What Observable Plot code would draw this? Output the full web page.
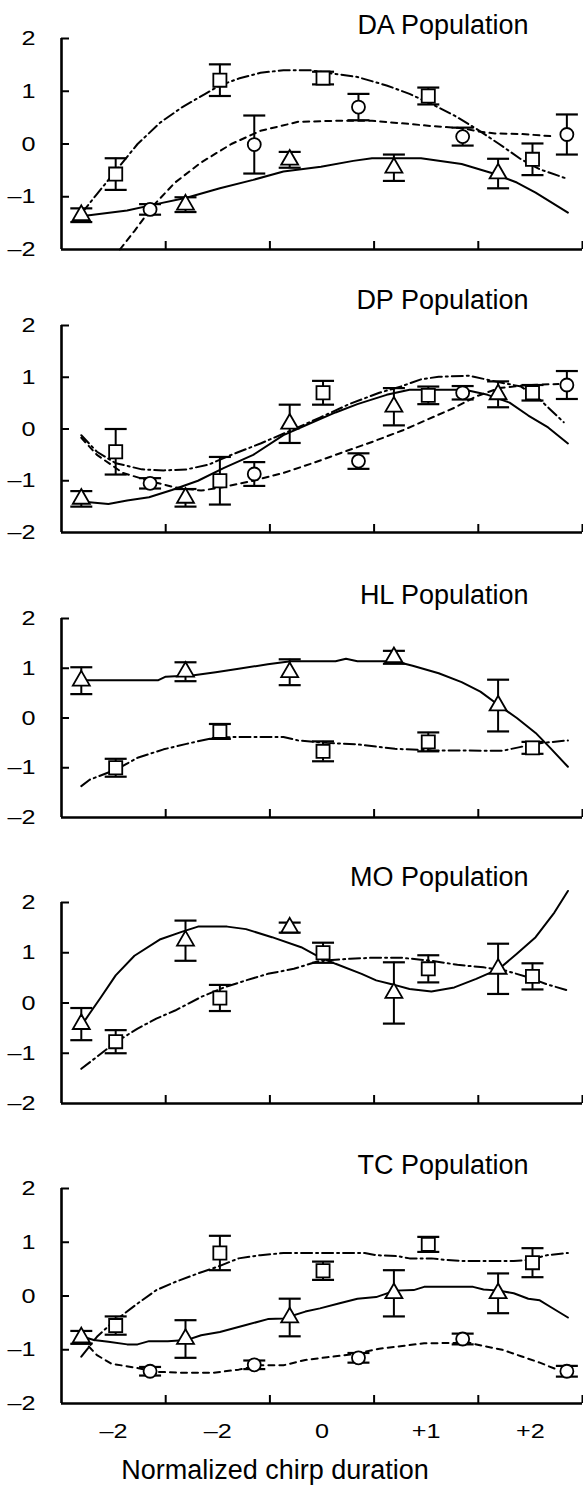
<!DOCTYPE html>
<html>
<head>
<meta charset="utf-8">
<script src="https://cdn.jsdelivr.net/npm/d3@7"></script>
<script src="https://cdn.jsdelivr.net/npm/@observablehq/plot@0.6"></script>
<style>
  html, body { margin: 0; padding: 0; background: white; }
  #chart { width: 583px; height: 1491px; overflow: hidden; }
  #chart svg { display: block; }
</style>
</head>
<body>
<div id="chart"></div>
<script>
// ---------- shared categories / tick labels ----------
const titles = ["DA Population", "DP Population", "HL Population", "MO Population", "TC Population"];
const triX = [-2.31, -1.31, -0.31, 0.69, 1.69];
const sqX  = [-1.98, -0.98, 0.01, 1.02, 2.02];
const ciX  = [-1.65, -0.65, 0.35, 1.35, 2.35];
const yTickValues = [2, 1, 0, -1, -2];
const yTickLabels = ["2", "1", "0", "–1", "–2"];
const xTickMarks = [-1.5, -0.5, 0.5, 1.5, 2.5];
const xLabelValues = [-2, -1, 0, 1, 2];
const xLabelTexts = ["–2", "–2", "0", "+1", "+2"];
const xAxisLabel = "Normalized chirp duration";

// ---------- DA ----------
const daTri = [-1.35, -1.15, -0.30, -0.45, -0.56];
const daTriErr = [0.13, 0.14, 0.15, 0.25, 0.28];
const daSq = [-0.57, 1.21, 1.25, 0.91, -0.29];
const daSqErr = [0.30, 0.30, 0.12, 0.16, 0.30];
const daCi = [-1.24, -0.01, 0.70, 0.14, 0.18];
const daCiErr = [0.10, 0.55, 0.25, 0.17, 0.38];
const daTriFitX = [-2.31, -1.87, -1.59, -1.30, -0.98, -0.66, -0.37, -0.01, 0.30, 0.48, 0.95, 1.34, 1.66, 1.87, 2.05, 2.36];
const daTriFitY = [-1.37, -1.26, -1.14, -1.02, -0.84, -0.68, -0.52, -0.43, -0.32, -0.27, -0.27, -0.38, -0.57, -0.73, -0.92, -1.30];
const daSqFitX = [-2.31, -2.16, -1.98, -1.77, -1.55, -1.34, -1.12, -0.98, -0.80, -0.59, -0.37, -0.12, 0.05, 0.34, 0.62, 0.84, 1.05, 1.27, 1.48, 1.70, 1.91, 2.09, 2.34];
const daSqFitY = [-1.32, -0.95, -0.51, 0.00, 0.41, 0.70, 0.95, 1.11, 1.24, 1.35, 1.40, 1.40, 1.35, 1.27, 1.11, 0.95, 0.76, 0.54, 0.29, 0.00, -0.29, -0.48, -0.65];
const daCiFitX = [-1.94, -1.80, -1.62, -1.41, -1.16, -0.87, -0.59, -0.23, 0.13, 0.48, 0.84, 1.05, 1.34, 1.52, 1.66, 1.91, 2.19];
const daCiFitY = [-2.00, -1.65, -1.17, -0.73, -0.35, 0.00, 0.25, 0.42, 0.44, 0.44, 0.38, 0.34, 0.30, 0.23, 0.20, 0.19, 0.15];

// ---------- DP ----------
const dpTri = [-1.35, -1.33, 0.10, 0.43, 0.67];
const dpTriErr = [0.15, 0.17, 0.37, 0.36, 0.25];
const dpSq = [-0.44, -1.00, 0.70, 0.65, 0.70];
const dpSqErr = [0.44, 0.46, 0.23, 0.17, 0.15];
const dpCi = [-1.05, -0.87, -0.62, 0.70, 0.85];
const dpCiErr = [0.10, 0.23, 0.15, 0.13, 0.27];
const dpTriFitX = [-2.31, -2.05, -1.87, -1.66, -1.44, -1.19, -0.94, -0.66, -0.37, -0.09, 0.13, 0.34, 0.62, 0.84, 1.05, 1.37, 1.59, 1.80, 1.98, 2.17, 2.36];
const dpTriFitY = [-1.40, -1.45, -1.38, -1.32, -1.18, -1.00, -0.75, -0.50, -0.12, 0.13, 0.32, 0.48, 0.66, 0.76, 0.76, 0.76, 0.66, 0.51, 0.26, 0.03, -0.28];
const dpSqFitX = [-2.31, -2.16, -1.98, -1.73, -1.52, -1.30, -1.09, -0.87, -0.59, -0.30, -0.02, 0.26, 0.55, 0.77, 0.95, 1.12, 1.41, 1.66, 1.91, 2.09, 2.32];
const dpSqFitY = [-0.12, -0.44, -0.66, -0.78, -0.80, -0.78, -0.69, -0.50, -0.28, -0.03, 0.22, 0.48, 0.70, 0.83, 0.96, 1.01, 1.03, 0.92, 0.82, 0.57, 0.13];
const dpCiFitX = [-2.31, -2.16, -1.91, -1.66, -1.41, -1.16, -0.94, -0.66, -0.37, -0.09, 0.20, 0.48, 0.77, 1.02, 1.27, 1.48, 1.70, 1.98, 2.27];
const dpCiFitY = [-0.17, -0.50, -0.85, -1.00, -1.13, -1.19, -1.12, -1.00, -0.85, -0.66, -0.45, -0.25, -0.03, 0.19, 0.41, 0.63, 0.79, 0.85, 0.87];

// ---------- HL ----------
const hlTri = [0.75, 0.93, 0.92, 1.22, 0.25];
const hlTriErr = [0.27, 0.19, 0.26, 0.13, 0.52];
const hlSq = [-1.00, -0.27, -0.67, -0.48, -0.60];
const hlSqErr = [0.18, 0.15, 0.20, 0.19, 0.12];
const hlTriFitX = [-2.31, -2.02, -1.57, -1.50, -1.23, -1.02, -0.80, -0.52, -0.30, 0.13, 0.23, 0.34, 0.70, 0.87, 1.12, 1.34, 1.52, 1.70, 1.87, 2.05, 2.19, 2.36];
const hlTriFitY = [0.76, 0.76, 0.76, 0.83, 0.86, 0.92, 0.99, 1.08, 1.14, 1.14, 1.19, 1.14, 1.14, 1.05, 0.90, 0.72, 0.53, 0.25, 0.00, -0.30, -0.60, -0.98];
const hlSqFitX = [-2.31, -2.23, -1.98, -1.77, -1.52, -1.30, -1.02, -0.77, -0.37, -0.23, 0.05, 0.34, 0.70, 1.05, 1.73, 1.91, 2.12, 2.36];
const hlSqFitY = [-1.37, -1.24, -1.04, -0.80, -0.63, -0.52, -0.39, -0.38, -0.38, -0.45, -0.50, -0.53, -0.62, -0.65, -0.66, -0.58, -0.50, -0.45];

// ---------- MO ----------
const moTri = [-0.42, 1.24, 1.50, 0.20, 0.68];
const moTriErr = [0.32, 0.40, 0.10, 0.61, 0.50];
const moSq = [-0.77, 0.10, 1.00, 0.68, 0.53];
const moSqErr = [0.23, 0.26, 0.20, 0.27, 0.26];
const moTriFitX = [-2.31, -2.23, -2.12, -1.98, -1.80, -1.55, -1.34, -1.19, -0.91, -0.73, -0.48, -0.20, -0.02, 0.13, 0.38, 0.52, 0.66, 0.84, 1.05, 1.27, 1.48, 1.70, 1.87, 2.05, 2.23, 2.36];
const moTriFitY = [-0.45, -0.21, 0.12, 0.55, 0.94, 1.27, 1.42, 1.52, 1.52, 1.47, 1.31, 1.11, 0.91, 0.78, 0.58, 0.45, 0.38, 0.28, 0.23, 0.31, 0.48, 0.68, 0.98, 1.31, 1.80, 2.23];
const moSqFitX = [-2.31, -2.16, -1.98, -1.77, -1.59, -1.41, -1.16, -0.94, -0.73, -0.52, -0.27, -0.02, 0.27, 0.48, 0.77, 1.05, 1.30, 1.55, 1.77, 1.98, 2.16, 2.36];
const moSqFitY = [-1.31, -1.07, -0.78, -0.51, -0.31, -0.15, 0.12, 0.31, 0.45, 0.58, 0.68, 0.84, 0.88, 0.90, 0.90, 0.84, 0.76, 0.71, 0.64, 0.51, 0.37, 0.25];

// ---------- TC ----------
const tcTri = [-0.77, -0.80, -0.40, 0.05, 0.05];
const tcTriErr = [0.12, 0.35, 0.35, 0.43, 0.37];
const tcSq = [-0.55, 0.80, 0.47, 0.96, 0.62];
const tcSqErr = [0.17, 0.32, 0.17, 0.14, 0.27];
const tcCi = [-1.40, -1.28, -1.15, -0.80, -1.40];
const tcCiErr = [0.08, 0.08, 0.09, 0.10, 0.10];
const tcTriFitX = [-2.31, -2.19, -2.05, -1.87, -1.77, -1.66, -1.48, -1.30, -1.16, -0.98, -0.73, -0.52, -0.37, -0.16, -0.02, 0.16, 0.34, 0.52, 0.70, 0.88, 0.98, 1.45, 1.55, 1.70, 1.84, 1.98, 2.09, 2.19, 2.36];
const tcTriFitY = [-0.75, -0.82, -0.85, -0.90, -0.90, -0.84, -0.84, -0.82, -0.73, -0.67, -0.54, -0.43, -0.42, -0.29, -0.23, -0.14, -0.05, -0.02, 0.10, 0.11, 0.17, 0.17, 0.12, 0.10, 0.05, -0.05, -0.08, -0.20, -0.40];
const tcSqFitX = [-2.31, -2.16, -2.02, -1.77, -1.59, -1.41, -1.19, -0.98, -0.80, -0.59, -0.37, 0.05, 0.41, 0.52, 0.73, 0.84, 1.05, 1.20, 1.37, 1.84, 1.98, 2.16, 2.36];
const tcSqFitY = [-1.13, -0.76, -0.51, -0.14, 0.11, 0.26, 0.42, 0.56, 0.70, 0.76, 0.80, 0.80, 0.80, 0.76, 0.74, 0.70, 0.70, 0.67, 0.65, 0.65, 0.67, 0.76, 0.80];
const tcCiFitX = [-2.31, -2.16, -2.02, -1.80, -1.59, -1.30, -1.05, -0.80, -0.59, -0.37, -0.16, 0.05, 0.31, 0.55, 0.77, 0.98, 1.41, 1.55, 1.73, 1.91, 2.09, 2.27];
const tcCiFitY = [-0.79, -1.10, -1.26, -1.33, -1.41, -1.43, -1.43, -1.37, -1.29, -1.29, -1.19, -1.14, -1.08, -0.98, -0.93, -0.88, -0.87, -0.93, -1.00, -1.12, -1.24, -1.38];

// ---------- assemble ----------
const panelData = [
  {tri: [daTri, daTriErr, daTriFitX, daTriFitY], sq: [daSq, daSqErr, daSqFitX, daSqFitY], ci: [daCi, daCiErr, daCiFitX, daCiFitY]},
  {tri: [dpTri, dpTriErr, dpTriFitX, dpTriFitY], sq: [dpSq, dpSqErr, dpSqFitX, dpSqFitY], ci: [dpCi, dpCiErr, dpCiFitX, dpCiFitY]},
  {tri: [hlTri, hlTriErr, hlTriFitX, hlTriFitY], sq: [hlSq, hlSqErr, hlSqFitX, hlSqFitY], ci: null},
  {tri: [moTri, moTriErr, moTriFitX, moTriFitY], sq: [moSq, moSqErr, moSqFitX, moSqFitY], ci: null},
  {tri: [tcTri, tcTriErr, tcTriFitX, tcTriFitY], sq: [tcSq, tcSqErr, tcSqFitX, tcSqFitY], ci: [tcCi, tcCiErr, tcCiFitX, tcCiFitY]}
];

// layout (pixels)
const layout = [
  {mt: 38, ph: 211, mb: 31, gap: 5},
  {mt: 45, ph: 207, mb: 41, gap: 17},
  {mt: 45, ph: 199, mb: 41, gap: 15},
  {mt: 44, ph: 201, mb: 40, gap: 17},
  {mt: 45, ph: 215, mb: 88, gap: 15}
];

const seriesStyle = {
  tri: {xs: triX, symbol: "triangle", r: 6.3, dash: null},
  sq:  {xs: sqX,  symbol: "square",   r: 7.4, dash: "11,4,2,4"},
  ci:  {xs: ciX,  symbol: "circle",   r: 6.5, dash: "6,5"}
};

const capSymbol = {
  draw(context, size) {
    const r = Math.sqrt(size / Math.PI);
    context.moveTo(-r, 0);
    context.lineTo(r, 0);
  }
};

const W = 583, ML = 61, MR = 1;
const LABEL_STRETCH = 1.2;
const yLabelMap = new Map(yTickValues.map((v, i) => [v, yTickLabels[i]]));
const xLabelMap = new Map(xLabelValues.map((v, i) => [v, xLabelTexts[i]]));

function stretchText(t, s) {
  const tr = t.getAttribute("transform");
  if (tr) {
    t.setAttribute("transform", `${tr} scale(${s},1)`);
  } else {
    const x = parseFloat(t.getAttribute("x") || "0");
    const y = parseFloat(t.getAttribute("y") || "0");
    t.removeAttribute("x");
    t.removeAttribute("y");
    t.setAttribute("transform", `translate(${x},${y}) scale(${s},1)`);
  }
}

function makePanel(p, i) {
  const L = layout[i];
  const last = i === panelData.length - 1;
  const marks = [];
  // fitted curves
  for (const key of ["tri", "sq", "ci"]) {
    const s = p[key]; if (!s) continue;
    const st = seriesStyle[key];
    marks.push(Plot.line(s[2], {x: s[2], y: s[3], stroke: "black", strokeWidth: 2,
      strokeDasharray: st.dash, strokeLinejoin: "round", curve: "linear"}));
  }
  // error bars and markers
  for (const key of ["tri", "sq", "ci"]) {
    const s = p[key]; if (!s) continue;
    const st = seriesStyle[key];
    const rows = st.xs.map((x, j) => ({x, y: s[0][j], lo: s[0][j] - s[1][j], hi: s[0][j] + s[1][j]}));
    marks.push(Plot.ruleX(rows, {x: "x", y1: "lo", y2: "hi", stroke: "black", strokeWidth: 2}));
    marks.push(Plot.dot(rows, {x: "x", y: "hi", symbol: capSymbol, r: 11, fill: "none", stroke: "black", strokeWidth: 2.2}));
    marks.push(Plot.dot(rows, {x: "x", y: "lo", symbol: capSymbol, r: 11, fill: "none", stroke: "black", strokeWidth: 2.2}));
    marks.push(Plot.dot(rows, {x: "x", y: "y", symbol: st.symbol, r: st.r, fill: "white", stroke: "black", strokeWidth: 1.8}));
  }
  // axes frame
  marks.push(Plot.ruleX([-2.5], {stroke: "black", strokeWidth: 2.6}));
  marks.push(Plot.ruleY([-2], {stroke: "black", strokeWidth: 2.6}));
  marks.push(Plot.ruleY(yTickValues.slice(0, 4), {stroke: "black", strokeWidth: 2, insetRight: W - ML - MR - 8}));
  marks.push(Plot.ruleX(xTickMarks, {stroke: "black", strokeWidth: 2, insetTop: L.ph - 8}));
  marks.push(Plot.axisY({ticks: yTickValues, tickSize: 0, tickPadding: 26, label: null,
    tickFormat: d => yLabelMap.get(d), fontSize: 21}));
  // panel title
  marks.push(Plot.text([titles[i]], {frameAnchor: "top-right", dx: -54, dy: -L.gap, lineAnchor: "bottom",
    textAnchor: "end", fontSize: 27, fill: "black"}));
  if (last) {
    marks.push(Plot.axisX({ticks: xLabelValues, tickSize: 0, tickPadding: 20, label: null,
      tickFormat: d => xLabelMap.get(d), fontSize: 21}));
    marks.push(Plot.text([xAxisLabel], {frameAnchor: "bottom", dx: -47, dy: 56, lineAnchor: "top",
      textAnchor: "middle", fontSize: 27, fill: "black"}));
  }
  const svg = Plot.plot({
    width: W,
    height: L.mt + L.ph + L.mb,
    marginLeft: ML, marginRight: MR, marginTop: L.mt, marginBottom: L.mb,
    x: {domain: [-2.5, 2.5], axis: null},
    y: {domain: [-2, 2], axis: null},
    style: {fontFamily: "'Liberation Sans', Arial, Helvetica, sans-serif", fontSize: "21px", color: "black", background: "white", overflow: "visible"},
    marks
  });
  // the reference's tick labels are drawn horizontally widened
  svg.querySelectorAll('g[aria-label$="tick label"] text').forEach(t => stretchText(t, LABEL_STRETCH));
  return svg;
}

const chart = document.getElementById("chart");
panelData.forEach((p, i) => chart.appendChild(makePanel(p, i)));
</script>
</body>
</html>
